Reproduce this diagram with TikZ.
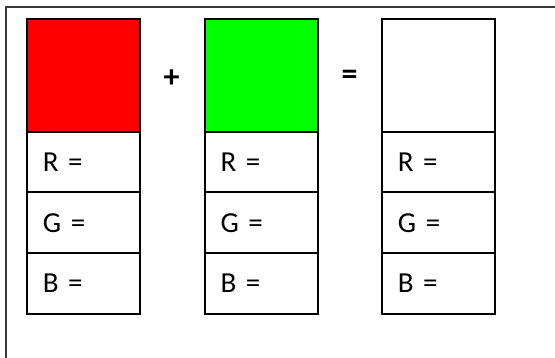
\documentclass[tikz,border=0pt]{standalone}
\usepackage{fontspec}
\setmainfont{Carlito}
\begin{document}
\begin{tikzpicture}[x=1pt,y=-1pt,
  swatch/.style={draw=black, line width=2pt, minimum width=113pt, minimum height=113pt, anchor=north west, inner sep=0pt, outer sep=0pt},
  cell/.style={draw=black, line width=2pt, minimum width=113pt, minimum height=60.7pt, anchor=north west, inner sep=0pt, outer sep=0pt, text width=81pt, text height=18.5pt, text depth=0pt, align=left, font=\fontsize{29}{32}\selectfont},
  op/.style={font=\fontsize{32}{36}\selectfont\bfseries, inner sep=0pt},
  frame/.style={draw=black!78, line width=1.8pt}]
\useasboundingbox (0,0) rectangle (555,358);
\coordinate (ftl) at (5.8,6.8);
\coordinate (ftr) at (556,6.8);
\coordinate (fbl) at (5.8,359);
\draw[frame] (ftr) -- (ftl) -- (fbl);
% column 1
\node[swatch, fill={rgb,255:red,255;green,0;blue,0}] (c1) at (26.8,18.8) {};
\node[cell] (r1) at (c1.south west) {R =};
\node[cell] (g1) at (r1.south west) {G =};
\node[cell] (b1) at (g1.south west) {B =};
% column 2
\node[swatch, fill={rgb,255:red,0;green,255;blue,0}] (c2) at (204.5,18.8) {};
\node[cell] (r2) at (c2.south west) {R =};
\node[cell] (g2) at (r2.south west) {G =};
\node[cell] (b2) at (g2.south west) {B =};
% column 3
\node[swatch, fill=white] (c3) at (381.8,18.8) {};
\node[cell] (r3) at (c3.south west) {R =};
\node[cell] (g3) at (r3.south west) {G =};
\node[cell] (b3) at (g3.south west) {B =};
% operators
\node[op] (plus) at (171.7,78.3) {+};
\node[op] (eq) at (349.7,77.5) {=};
\end{tikzpicture}
\end{document}
